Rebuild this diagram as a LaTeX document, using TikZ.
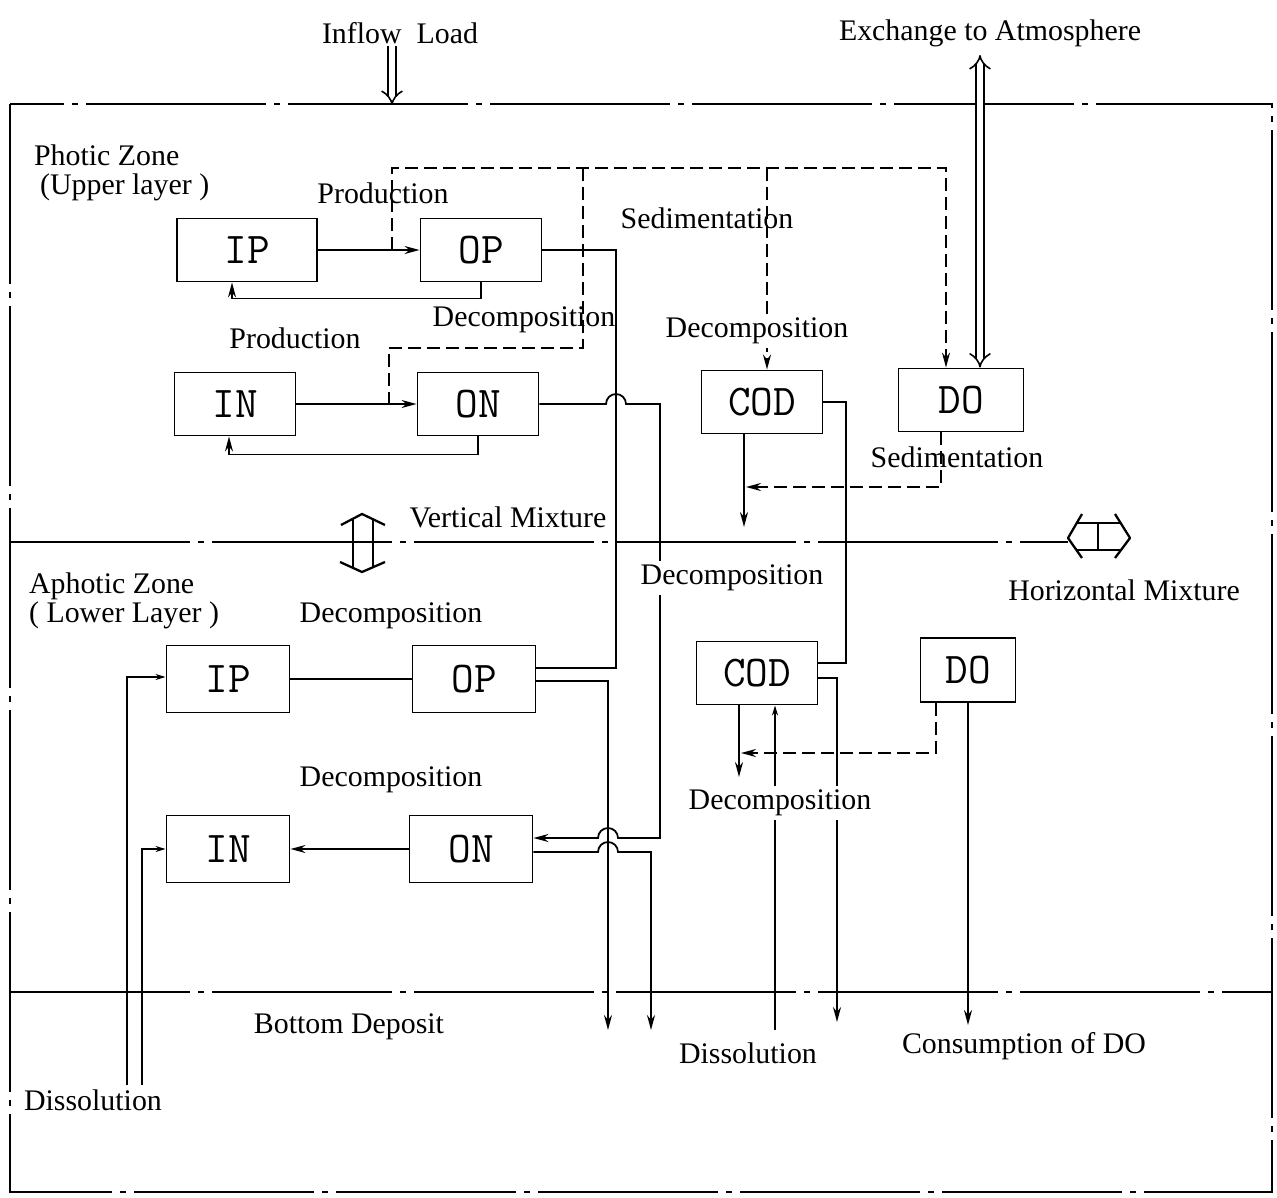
\documentclass[tikz,border=0pt]{standalone}
\usepackage{fontspec}
\setmainfont{Liberation Serif}
\usetikzlibrary{arrows.meta}

\begin{document}
\begin{tikzpicture}[
    box/.style={
        rectangle,
        draw=black,
        line width=1.1pt,
        minimum height=1.26cm,
        minimum width=2.42cm,
        inner sep=0pt,
        font=\fontsize{25}{27}\selectfont\ttfamily
    },
    widebox/.style={
        box,
        minimum width=2.8cm
    },
    lowbox/.style={
        box,
        minimum width=2.46cm,
        minimum height=1.34cm
    },
    narrowbox/.style={
        box,
        minimum width=1.9cm,
        minimum height=1.28cm
    },
    lbl/.style={
        inner sep=1pt,
        font=\fontsize{17}{19}\selectfont
    },
    cutlbl/.style={
        lbl,
        fill=white,
        inner sep=2pt
    },
    link/.style={
        line width=1pt,
        draw=black
    },
    arrow/.style={
        link,
        -{Stealth[length=0.3cm, width=0.16cm]}
    },
    smallarrow/.style={
        link,
        -{Stealth[length=0.2cm, width=0.12cm]}
    },
    oxy/.style={
        link,
        dash pattern=on 0.26cm off 0.12cm
    },
    oxyarrow/.style={
        oxy,
        -{Stealth[length=0.3cm, width=0.16cm]}
    },
    zone/.style={
        line width=1.1pt,
        dash pattern=on 3.6cm off 0.16cm on 0.12cm off 0.16cm
    },
    bigflow/.style={
        double,
        double distance=0.12cm,
        line width=0.9pt
    },
    mixsym/.style={
        line width=1.3pt,
        line join=round
    }
]

    \useasboundingbox (0,0) rectangle (25.54,-23.96);

    % --- ZONES: WATER BODY, PHOTIC / APHOTIC / BOTTOM DEPOSIT ---
    \draw[zone] (0.2,-2.08) rectangle (25.44,-23.84);
    \draw[zone] (0.2,-10.84) -- (21.36,-10.84);
    \draw[zone] (0.2,-19.84) -- (25.44,-19.84);

    % --- UPPER LAYER BOXES ---
    \node[widebox] (ipU) at (4.94,-5.0) {IP};
    \node[box] (opU) at (9.62,-5.0) {OP};
    \node[box] (inU) at (4.7,-8.08) {IN};
    \node[box] (onU) at (9.56,-8.08) {ON};
    \node[box] (codU) at (15.24,-8.04) {COD};
    \node[box, minimum width=2.5cm] (doU) at (19.22,-8.0) {DO};

    % --- LOWER LAYER BOXES ---
    \node[lowbox] (ipL) at (4.56,-13.58) {IP};
    \node[lowbox] (opL) at (9.48,-13.58) {OP};
    \node[lowbox] (inL) at (4.56,-16.98) {IN};
    \node[lowbox] (onL) at (9.42,-16.98) {ON};
    \node[box] (codL) at (15.14,-13.46) {COD};
    \node[narrowbox] (doL) at (19.36,-13.4) {DO};

    % --- TOP INPUTS ---
    \node[lbl] (inflow) at (8.0,-0.66) {Inflow~~Load};
    \node[lbl] (exchange) at (19.8,-0.66) {Exchange to Atmosphere};

    \coordinate (inflowtip) at (7.84,-2.1);
    \draw[bigflow, -{Implies}] (inflow.south -| inflowtip) -- (inflowtip);

    \coordinate (exch) at (19.6,-1.1);
    \draw[bigflow, {Implies}-{Implies}] (exch) -- (exch |- doU.north);

    % Upper layer: production / decomposition loops
    \draw[arrow] (ipU) -- (opU);
    \draw[arrow] (opU.south) -- ++(0,-0.32) -| ([xshift=-0.3cm]ipU.south);
    \draw[arrow] (inU) -- (onU);
    \draw[arrow] (onU.south) -- ++(0,-0.36) -| ([xshift=-0.12cm]inU.south);

    % Oxygen links (dashed)
    \coordinate (oxsrc) at (7.84,-5.0);
    \coordinate (oxtop) at (7.84,-3.36);
    \coordinate (oxdo) at (18.92,-3.36);
    \coordinate (oxcod) at (15.34,-3.36);
    \coordinate (oxon) at (11.66,-3.36);
    \coordinate (oxbend) at (7.78,-6.96);
    \draw[oxyarrow] (oxsrc) -- (oxtop) -- (oxdo) -- (oxdo |- doU.north);
    \draw[oxyarrow] (oxcod) -- (oxcod |- codU.north);
    \draw[oxy] (oxon) |- (oxbend) -- (oxbend |- inU.east);

    % COD / DO upper
    \coordinate (codUdown) at (14.88,-10.54);
    \coordinate (sedU) at (14.92,-9.74);
    \draw[arrow] (codU.south -| codUdown) -- (codUdown);
    \draw[oxyarrow] ([xshift=-0.4cm]doU.south) |- (sedU);

    % --- VERTICAL MIXTURE LINKS ---
    \coordinate (amix) at (12.32,-13.36);
    \draw[link] (opU.east) -| (amix) -- (amix -| opL.east);

    \coordinate (bturn) at (13.2,-16.76);
    \draw[arrow] (onU.east) -- (12.12,-8.08) arc[start angle=180, end angle=0, radius=0.2cm]
        -- (bturn |- onU.east) -- (bturn) -- (12.36,-16.76)
        arc[start angle=0, end angle=180, radius=0.2cm] -- (onL.east |- bturn);

    \coordinate (cmix) at (16.92,-13.26);
    \draw[link] (codU.east) -| (cmix) -- (cmix -| codL.east);

    % Lower layer: decomposition
    \draw[link] (ipL) -- (opL);
    \draw[arrow] (onL) -- (inL);

    % Sedimentation to bottom
    \coordinate (cdown) at (12.16,-20.6);
    \draw[arrow] ([yshift=-0.04cm]opL.east) -| (cdown);
    \coordinate (ddown) at (13.02,-20.6);
    \draw[arrow] ([yshift=-0.06cm]onL.east) -- (11.96,-17.04) arc[start angle=180, end angle=0, radius=0.2cm]
        -- (13.02,-17.04) -- (ddown);

    % COD / DO lower
    \coordinate (codLdown) at (14.78,-15.54);
    \coordinate (sedL) at (14.82,-15.06);
    \draw[arrow] (codL.south -| codLdown) -- (codLdown);
    \draw[oxyarrow] ([xshift=-0.64cm]doL.south) |- (sedL);
    \coordinate (codbottom) at (16.74,-20.44);
    \draw[arrow] ([yshift=-0.1cm]codL.east) -| (codbottom);
    \coordinate (dissM) at (15.5,-20.6);
    \draw[smallarrow] (dissM) -- (dissM |- codL.south);
    \coordinate (doLdown) at (19.36,-20.5);
    \draw[arrow] (doL) -- (doLdown);

    % Dissolution from bottom deposit
    \coordinate (dissIP) at (2.54,-21.7);
    \coordinate (dissIN) at (2.84,-21.7);
    \draw[smallarrow] (dissIP) |- ([yshift=0.04cm]ipL.west);
    \draw[smallarrow] (dissIN) |- (inL.west);

    % --- MIXTURE SYMBOLS ---
    \draw[mixsym] (6.82,-10.5) -- (7.24,-10.28) -- (7.7,-10.5);
    \draw[mixsym] (7.06,-10.38) -- (7.06,-11.35) (7.46,-10.38) -- (7.46,-11.35);
    \draw[mixsym] (6.8,-11.24) -- (7.24,-11.44) -- (7.7,-11.24);

    \draw[mixsym] (21.64,-10.28) -- (21.36,-10.76) -- (21.64,-11.16);
    \draw[mixsym] (22.3,-10.28) -- (22.6,-10.76) -- (22.3,-11.16);
    \draw[mixsym] (21.535,-10.46) -- (22.41,-10.46) (21.528,-11.0) -- (22.42,-11.0);
    \draw[mixsym] (21.96,-10.46) -- (21.96,-11.0);

    % --- LABELS ---
    \node[lbl, anchor=west] (photic) at (0.64,-3.1) {Photic Zone};
    \node[lbl, anchor=west] (upper) at (0.76,-3.74) {(Upper layer )};
    \node[lbl] (prodP) at (7.66,-3.86) {Production};
    \node[lbl] (sedCOD) at (14.14,-4.36) {Sedimentation};
    \node[lbl] (decOP) at (10.48,-6.4) {Decomposition};
    \node[lbl] (prodN) at (5.9,-6.76) {Production};
    \node[cutlbl] (decCOD) at (15.14,-6.62) {Decomposition};
    \node[lbl] (sedDO) at (19.14,-9.14) {Sedimentation};
    \node[lbl] (vmix) at (10.16,-10.34) {Vertical Mixture};

    \node[lbl, anchor=west] (aphotic) at (0.54,-11.72) {Aphotic Zone};
    \node[lbl, anchor=west] (lower) at (0.54,-12.3) {( Lower Layer )};
    \node[lbl] (decP) at (7.82,-12.32) {Decomposition};
    \node[cutlbl] (decMix) at (14.64,-11.56) {Decomposition};
    \node[lbl] (hmix) at (22.48,-11.8) {Horizontal Mixture};
    \node[lbl] (decN) at (7.82,-15.6) {Decomposition};
    \node[cutlbl] (decCODL) at (15.6,-16.06) {Decomposition};

    \node[lbl] (bottom) at (6.98,-20.54) {Bottom Deposit};
    \node[lbl] (dissMid) at (14.96,-21.06) {Dissolution};
    \node[lbl] (consume) at (20.48,-20.92) {Consumption of DO};
    \node[lbl, anchor=west] (dissLeft) at (0.44,-22.0) {Dissolution};

\end{tikzpicture}
\end{document}
